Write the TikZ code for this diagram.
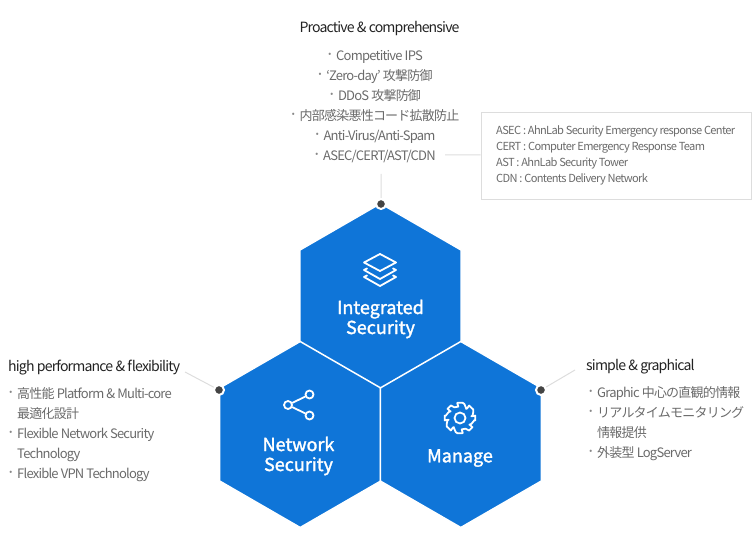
\documentclass[tikz,border=0pt]{standalone}
\usepackage{fontspec}
\setmainfont[LetterSpace=-6]{Noto Sans CJK KR}
\newfontfamily\hexfont[FakeBold=1.6]{Noto Sans CJK KR}
\usetikzlibrary{shapes.geometric}
\usetikzlibrary{positioning}
\definecolor{hexblue}{HTML}{0F75D8}
\definecolor{listgray}{HTML}{6A6A6A}
\definecolor{titleblack}{HTML}{222222}
\definecolor{rulegray}{HTML}{DDDDDD}
\definecolor{dotgray}{HTML}{444444}
\newcommand{\itemdot}{\makebox[9pt][l]{\hspace*{-2pt}\textcolor{listgray!80}{\fontsize{17}{17}\selectfont ·}}}
\begin{document}
\begin{tikzpicture}[x=1pt,y=-1pt,
  hex/.style={regular polygon,regular polygon sides=6,shape border rotate=30,minimum size=186pt,inner sep=0pt,outer sep=0pt,fill=hexblue,draw=white,line width=1.5pt},
  hexlabel/.style={text=white,font=\hexfont\fontsize{18}{20}\selectfont,align=center,inner sep=0pt},
  title/.style={text=titleblack,font=\fontsize{14.1}{16}\selectfont,inner sep=0pt},
  list/.style={text=listgray,font=\fontsize{13}{20}\selectfont,inner sep=0pt},
  dot/.style={circle,fill=dotgray,draw=white,line width=2pt,minimum size=10pt,inner sep=0pt},
  lead/.style={draw=rulegray,line width=1pt},
  icon/.style={draw=white,line width=1.8pt,line join=round,line cap=round},
  ring/.style={circle,draw=white,line width=1.8pt,inner sep=0pt}]
  \useasboundingbox (0,0) rectangle (755,548);

  \node [hex] (integrated) at (380.5,296.5){};
  \node [hex] (network) at (300.2,434.5){};
  \node [hex] (manage) at (460.8,434.5){};

  \node [hexlabel] (integratedlabel) at (380.5,319){Integrated\\Security};
  \node [hexlabel] (networklabel) at (298.5,456){Network\\Security};
  \node [hexlabel] (managelabel) at (460,458){Manage};

  % layers
  \draw [icon] (380,254) -- (396,262.5) -- (380,271) -- (364,262.5) -- cycle;
  \draw [icon] (367,268.5) -- (364,270) -- (380,279) -- (396,270) -- (393,268.5);
  \draw [icon] (367,275.5) -- (364,277) -- (380,286) -- (396,277) -- (393,275.5);
  % share
  \node [ring,minimum size=8pt] (shareA) at (309.5,394.5){};
  \node [ring,minimum size=8pt] (shareB) at (288,405){};
  \node [ring,minimum size=8pt] (shareC) at (309.5,415.5){};
  \draw [icon] (shareB) -- (shareA);
  \draw [icon] (shareB) -- (shareC);
  % gear
  \node [ring,minimum size=11pt] (gearhub) at (460,418){};
  \draw [icon,shift={(460,418)}]
    \foreach \a in {0,45,...,315}{
      (\a-9:15.5) -- (\a+9:15.5) to[out=\a+100,in=\a-10] (\a+36:11.5) to[out=\a+80,in=\a-80] (\a+45-9:15.5)
    };

  \node [title] (protitle) at (379.5,29){Proactive \& comprehensive};
  \node [list,align=center] (prolist) at (375,107){%
    \itemdot Competitive IPS\\
    \itemdot `Zero-day' 攻撃防御\\
    \itemdot DDoS 攻撃防御\\
    \itemdot 内部感染悪性コード拡散防止\\
    \itemdot Anti-Virus/Anti-Spam\\
    \itemdot ASEC/CERT/AST/CDN};
  \node [draw=rulegray,line width=.8pt,minimum width=270pt,minimum height=87pt,inner sep=0pt] (abbrbox) at (616,155.5){};
  \node [text=listgray,font=\fontsize{11.1}{16}\selectfont,align=left,inner sep=0pt,anchor=west] (abbrtext) at (496,155){%
    ASEC : AhnLab Security Emergency response Center\\
    CERT : Computer Emergency  Response Team\\
    AST : AhnLab Security Tower\\
    CDN : Contents Delivery Network};

  \node [title,anchor=west] (hightitle) at (8,368){high performance \& flexibility};
  \node [list,align=left,anchor=north west] (highlist) at (8,387){%
    \itemdot 高性能 Platform \& Multi-core\\
    \hspace*{9pt}最適化設計\\
    \itemdot Flexible Network Security\\
    \hspace*{9pt}Technology\\
    \itemdot Flexible VPN Technology};

  \node [title,anchor=west] (simpletitle) at (586,367){simple \& graphical};
  \node [list,align=left,anchor=north west] (simplelist) at (588,386){%
    \itemdot Graphic 中心の直観的情報\\
    \itemdot リアルタイムモニタリング\\
    \hspace*{9pt}情報提供\\
    \itemdot 外装型 LogServer};

  \node [dot] (integrateddot) at (381,204){};
  \node [dot] (networkdot) at (219,390){};
  \node [dot] (managedot) at (541,390){};
  \coordinate (leadA) at (381,174);
  \coordinate (leadB) at (185,372);
  \coordinate (leadC) at (575,370);
  \coordinate (leadD) at (445,155);
  \path [lead]
    (leadA) -- (integrateddot)
    (leadB) -- (networkdot)
    (leadC) -- (managedot)
    (leadD) -- (abbrbox.west |- leadD);
\end{tikzpicture}
\end{document}
